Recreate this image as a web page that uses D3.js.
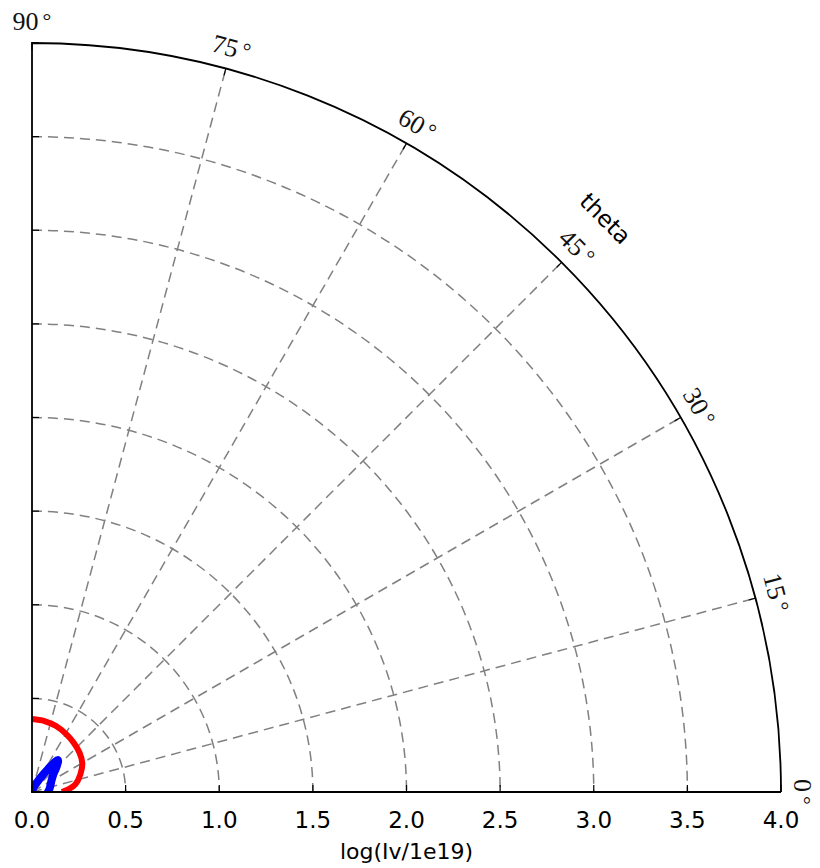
<!DOCTYPE html>
<html>
<head>
<meta charset="utf-8">
<script src="https://cdn.jsdelivr.net/npm/d3@7"></script>
<style>
  body { margin: 0; background: #fff; }
  svg { display: block; }
</style>
</head>
<body>
<div id="chart"></div>
<script>
// radial ticks (log(Iv/1e19)) and angular ticks (deg)
const radialTicks = [0.0, 0.5, 1.0, 1.5, 2.0, 2.5, 3.0, 3.5, 4.0];
const angleTicks = [0, 15, 30, 45, 60, 75, 90];

// red curve
const redTheta = [0, 5, 10, 20, 30, 40, 50, 60, 70, 80, 90];
const redR = [0.16, 0.2, 0.235, 0.275, 0.31, 0.33, 0.345, 0.36, 0.375, 0.385, 0.39];

// blue curve
const blueTheta = [0, 10, 20, 30, 40, 46, 51, 55, 60, 70, 90];
const blueR = [0.085, 0.095, 0.105, 0.12, 0.15, 0.19, 0.22, 0.15, 0.08, 0.03, 0.0];

const width = 820, height = 868;
const cx = 32, cy = 792;
const R = 749;

const r = d3.scaleLinear().domain([0, 4]).range([0, R]);
const rad = deg => deg * Math.PI / 180;
const px = (t, v) => cx + r(v) * Math.cos(rad(t));
const py = (t, v) => cy - r(v) * Math.sin(rad(t));

const svg = d3.select('#chart').append('svg')
  .attr('width', width)
  .attr('height', height);

svg.append('clipPath').attr('id', 'quad')
  .append('path')
  .attr('d', () => {
    const p = d3.path();
    p.moveTo(cx, cy);
    p.lineTo(cx, cy - R);
    p.arc(cx, cy, R, -Math.PI / 2, 0);
    p.closePath();
    return p.toString();
  });

const gridColor = '#808080';

// grid arcs
svg.append('g')
  .selectAll('path')
  .data(radialTicks.filter(v => v > 0 && v < 4))
  .join('path')
  .attr('d', v => {
    const p = d3.path();
    p.moveTo(cx, cy - r(v));
    p.arc(cx, cy, r(v), -Math.PI / 2, 0);
    return p.toString();
  })
  .attr('fill', 'none')
  .attr('stroke', gridColor)
  .attr('stroke-width', 1.5)
  .attr('stroke-dasharray', '10,6');

// grid spokes
svg.append('g')
  .selectAll('line')
  .data(angleTicks.filter(t => t > 0 && t < 90))
  .join('line')
  .attr('x1', cx).attr('y1', cy)
  .attr('x2', t => px(t, 4)).attr('y2', t => py(t, 4))
  .attr('stroke', gridColor)
  .attr('stroke-width', 1.5)
  .attr('stroke-dasharray', '10,6');

// data curves
const line = d3.lineRadial()
  .angle(d => rad(90 - d[0]))
  .radius(d => r(d[1]))
  .curve(d3.curveCatmullRom);

const curves = svg.append('g')
  .attr('clip-path', 'url(#quad)')
  .append('g')
  .attr('transform', `translate(${cx},${cy})`);

curves.append('path')
  .datum(redTheta.map((t, i) => [t, redR[i]]))
  .attr('d', line)
  .attr('fill', 'none')
  .attr('stroke', 'red')
  .attr('stroke-width', 6);

curves.append('path')
  .datum(blueTheta.map((t, i) => [t, blueR[i]]))
  .attr('d', line)
  .attr('fill', 'none')
  .attr('stroke', 'blue')
  .attr('stroke-width', 8)
  .attr('stroke-linejoin', 'round')
  .attr('stroke-linecap', 'round');

// frame
svg.append('path')
  .attr('d', () => {
    const p = d3.path();
    p.moveTo(px(0, 4), py(0, 4));
    p.lineTo(cx, cy);
    p.lineTo(cx, cy - R);
    p.arc(cx, cy, R, -Math.PI / 2, 0);
    return p.toString();
  })
  .attr('fill', 'none')
  .attr('stroke', '#000')
  .attr('stroke-width', 1.8);

// ticks on bottom and left axes (inward)
const tickLen = 7;
svg.append('g')
  .selectAll('line')
  .data(radialTicks)
  .join('line')
  .attr('x1', v => cx + r(v)).attr('x2', v => cx + r(v))
  .attr('y1', cy).attr('y2', cy - tickLen)
  .attr('stroke', '#000').attr('stroke-width', 1.2);

svg.append('g')
  .selectAll('line')
  .data(radialTicks)
  .join('line')
  .attr('x1', cx).attr('x2', cx + tickLen)
  .attr('y1', v => cy - r(v)).attr('y2', v => cy - r(v))
  .attr('stroke', '#000').attr('stroke-width', 1.2);

// ticks on the arc (inward)
svg.append('g')
  .selectAll('line')
  .data(angleTicks)
  .join('line')
  .attr('x1', t => px(t, 4)).attr('y1', t => py(t, 4))
  .attr('x2', t => cx + (R - tickLen) * Math.cos(rad(t)))
  .attr('y2', t => cy - (R - tickLen) * Math.sin(rad(t)))
  .attr('stroke', '#000').attr('stroke-width', 1.2);

// radial tick labels
svg.append('g')
  .selectAll('text')
  .data(radialTicks)
  .join('text')
  .attr('x', v => cx + r(v))
  .attr('y', cy + 36)
  .attr('text-anchor', 'middle')
  .attr('font-family', 'DejaVu Sans, sans-serif')
  .attr('font-size', 23)
  .attr('fill', '#000')
  .text(v => v.toFixed(1));

svg.append('text')
  .attr('x', cx + R / 2)
  .attr('y', 859)
  .attr('text-anchor', 'middle')
  .attr('font-family', 'DejaVu Sans, sans-serif')
  .attr('font-size', 22)
  .attr('fill', '#000')
  .text('log(Iv/1e19)');

// angle labels
const labelR = R + 22;
const angLabels = svg.append('g')
  .selectAll('text')
  .data(angleTicks)
  .join('text')
  .attr('transform', t => {
    const x = cx + labelR * Math.cos(rad(t));
    const y = cy - labelR * Math.sin(rad(t));
    return `translate(${x},${y}) rotate(${90 - t})`;
  })
  .attr('text-anchor', 'middle')
  .attr('dy', '0.35em')
  .attr('font-family', 'Liberation Serif, serif')
  .attr('font-size', 26)
  .attr('fill', '#111');
angLabels.append('tspan').text(t => t);
angLabels.append('tspan')
  .attr('dx', 4)
  .attr('font-size', 22)
  .attr('dy', '-0.1em')
  .text('°');

// axis title for angle
const thetaT = 45;
svg.append('text')
  .attr('transform', `translate(${cx + (R + 62) * Math.cos(rad(thetaT))},${cy - (R + 62) * Math.sin(rad(thetaT))}) rotate(${90 - thetaT})`)
  .attr('text-anchor', 'middle')
  .attr('dy', '0.35em')
  .attr('font-family', 'DejaVu Sans, sans-serif')
  .attr('font-size', 23)
  .attr('fill', '#000')
  .text('theta');
</script>
</body>
</html>
